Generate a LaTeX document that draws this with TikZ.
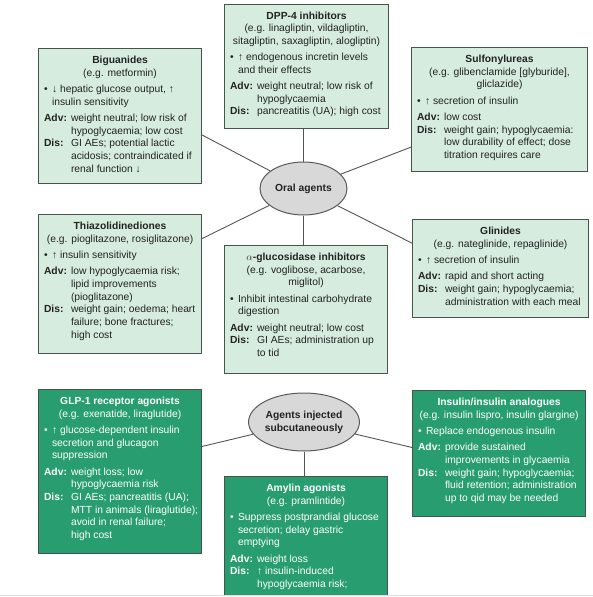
\documentclass[tikz,border=0pt]{standalone}
\usepackage{fontspec}
\setmainfont{Liberation Sans}
\usetikzlibrary{shapes.geometric}

\definecolor{oralfill}{RGB}{214,236,222}
\definecolor{injectfill}{RGB}{40,158,112}
\definecolor{boxline}{RGB}{70,84,76}
\definecolor{hubfill}{RGB}{216,216,216}
\definecolor{hubline}{RGB}{90,90,90}
\definecolor{linkline}{RGB}{85,85,85}
\definecolor{bodytext}{RGB}{35,35,35}
\definecolor{pagerule}{RGB}{225,225,225}

\newcommand{\chartfont}{\fontsize{10.3pt}{12.7pt}\selectfont}
\newcommand{\drugname}[2]{{\centering\textbf{#1}\\#2\par}\vspace{3.5pt}}
\newcommand{\mainaction}[1]{\hangindent=8pt\noindent\makebox[8pt][l]{\textbullet}#1\par\vspace{3.5pt}}
\newcommand{\advline}[1]{\hangindent=27pt\noindent\makebox[27pt][l]{\textbf{Adv:}}#1\par}
\newcommand{\disline}[1]{\hangindent=27pt\noindent\makebox[27pt][l]{\textbf{Dis:}}#1\par}

\tikzset{
	oral/.style={draw=boxline, fill=oralfill, line width=1.1pt, inner xsep=5.5pt, inner ysep=7.5pt, anchor=north west, text=bodytext, font=\chartfont},
	inject/.style={oral, fill=injectfill, text=white},
	hub/.style={ellipse, draw=hubline, fill=hubfill, line width=1pt, inner sep=0pt, align=center, text=bodytext, font=\chartfont\bfseries},
	link/.style={draw=linkline, line width=0.9pt}
}

\begin{document}
\begin{tikzpicture}[x=1pt, y=-1pt]
	\useasboundingbox (0,0) rectangle (593,597);
	\begin{scope}
	\clip (0,0) rectangle (593,595);
	% oral agents
	\node[hub, minimum width=87pt, minimum height=53pt] (oralhub) at (303.5,188.5) {Oral agents};
	\node[oral] (bigu) at (38,48) {\parbox[t][120pt][t]{152pt}{\parskip=0pt\raggedright
		\drugname{Biguanides}{(e.g. metformin)}
		\mainaction{↓ hepatic glucose output, ↑\newline insulin sensitivity}
		\advline{weight neutral; low risk of\newline hypoglycaemia; low cost}
		\disline{GI AEs; potential lactic\newline acidosis; contraindicated if\newline renal function ↓}}};
	\node[oral] (dpp) at (224,3.5) {\parbox[t][109.5pt][t]{153pt}{\parskip=0pt\raggedright
		\drugname{DPP-4 inhibitors}{(e.g. linagliptin, vildagliptin,\\sitagliptin, saxagliptin, alogliptin)}
		\mainaction{↑ endogenous incretin levels\newline and their effects}
		\advline{weight neutral; low risk of\newline hypoglycaemia}
		\disline{pancreatitis (UA); high cost}}};
	\node[oral] (sulf) at (411,47) {\parbox[t][109pt][t]{165pt}{\parskip=0pt\raggedright
		\drugname{Sulfonylureas}{(e.g. glibenclamide [glyburide],\\gliclazide)}
		\mainaction{↑ secretion of insulin}
		\advline{low cost}
		\disline{weight gain; hypoglycaemia:\newline low durability of effect; dose\newline titration requires care}}};
	\node[oral] (thia) at (38,214) {\parbox[t][124pt][t]{152pt}{\parskip=0pt\raggedright
		\drugname{Thiazolidinediones}{(e.g. pioglitazone, rosiglitazone)}
		\mainaction{↑ insulin sensitivity}
		\advline{low hypoglycaemia risk;\newline lipid improvements\newline (pioglitazone)}
		\disline{weight gain; oedema; heart\newline failure; bone fractures;\newline high cost}}};
	\node[oral] (alpha) at (224,245) {\parbox[t][113pt][t]{152pt}{\parskip=0pt\raggedright
		\drugname{$\alpha$-glucosidase inhibitors}{(e.g. voglibose, acarbose,\\miglitol)}
		\mainaction{Inhibit intestinal carbohydrate\newline digestion}
		\advline{weight neutral; low cost}
		\disline{GI AEs; administration up\newline to tid}}};
	\node[oral] (glin) at (412,219) {\parbox[t][83pt][t]{165pt}{\parskip=0pt\raggedright
		\drugname{Glinides}{(e.g. nateglinide, repaglinide)}
		\mainaction{↑ secretion of insulin}
		\advline{rapid and short acting}
		\disline{weight gain; hypoglycaemia;\newline administration with each meal}}};
	\draw[link] (oralhub.north) -- (oralhub.north |- dpp.south);
	\draw[link] (oralhub.south) -- (oralhub.south |- alpha.north);
	\draw[link] (oralhub) -- (bigu.-13);
	\draw[link] (oralhub) -- (sulf.203);
	\draw[link] (oralhub) -- (thia.29);
	\draw[link] (oralhub) -- (glin.164);
	% injected agents
	\node[hub, minimum width=100pt, minimum height=58pt] (injhub) at (304,422) {Agents injected\\subcutaneously};
	\node[inject] (glp) at (38,389) {\parbox[t][149pt][t]{152pt}{\parskip=0pt\raggedright
		\drugname{GLP-1 receptor agonists}{(e.g. exenatide, liraglutide)}
		\mainaction{↑ glucose-dependent insulin\newline secretion and glucagon\newline suppression}
		\advline{weight loss; low\newline hypoglycaemia risk}
		\disline{GI AEs; pancreatitis (UA);\newline \mbox{MTT in animals (liraglutide);}\newline avoid in renal failure;\newline high cost}}};
	\node[inject] (amyl) at (224,476) {\parbox[t][129pt][t]{152pt}{\parskip=0pt\raggedright
		\drugname{Amylin agonists}{(e.g. pramlintide)}
		\mainaction{Suppress postprandial glucose\newline secretion; delay gastric\newline emptying}
		\advline{weight loss}
		\disline{↑ insulin-induced\newline hypoglycaemia risk;}}};
	\node[inject] (insu) at (412,390) {\parbox[t][111pt][t]{162pt}{\parskip=0pt\raggedright
		\drugname{Insulin/insulin analogues}{(e.g. insulin lispro, insulin glargine)}
		\mainaction{Replace endogenous insulin}
		\advline{provide sustained\newline improvements in glycaemia}
		\disline{weight gain; hypoglycaemia;\newline fluid retention; administration\newline up to qid may be needed}}};
	\draw[link] (injhub.south) -- (injhub.south |- amyl.north);
	\draw[link] (injhub) -- (glp.17);
	\draw[link] (injhub) -- (insu.176);
	\end{scope}
	\draw[pagerule, line width=1pt] (0,595.5) -- (593,595.5);
\end{tikzpicture}
\end{document}
